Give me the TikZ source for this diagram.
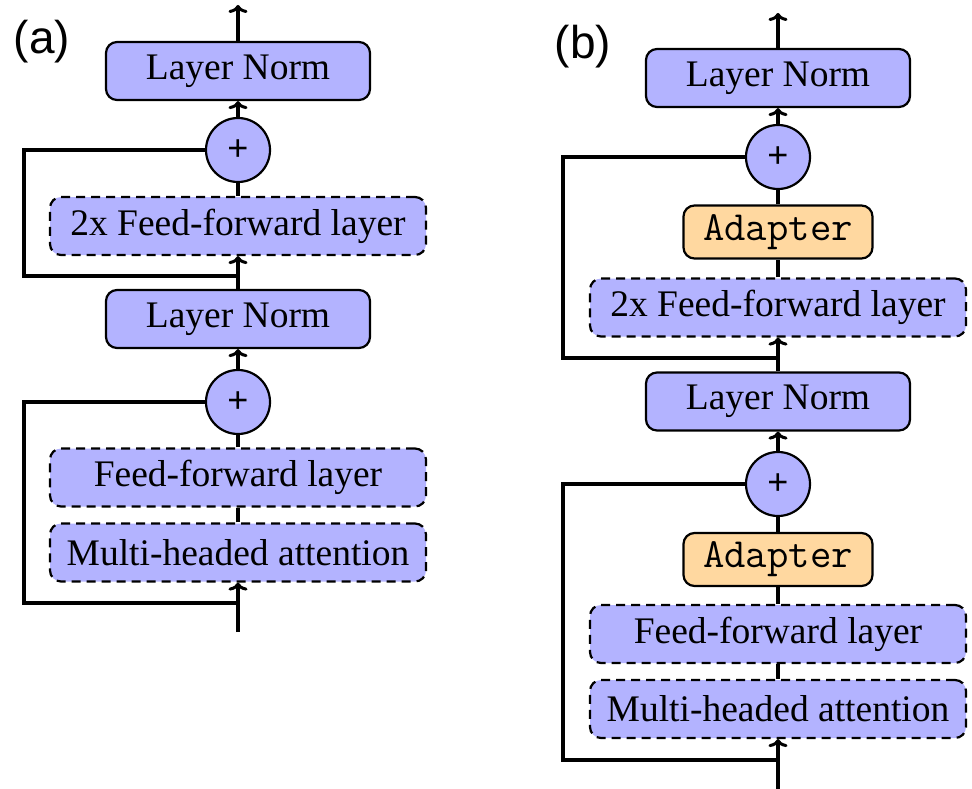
\documentclass[tikz,border=0pt]{standalone}
\usepackage{fontspec}
\setmainfont{Liberation Serif}
\newfontfamily\labfont{Liberation Sans}
\usetikzlibrary{arrows.meta}
\definecolor{boxblue}{RGB}{179,179,255}
\definecolor{adaporange}{RGB}{255,216,160}
\tikzset{
  base/.style={draw=black, line width=2.2pt, rounded corners=11pt, inner sep=0pt,
    font=\fontsize{37.5}{40}\selectfont},
  normbox/.style={base, fill=boxblue, minimum width=264pt, minimum height=58pt},
  dashbox/.style={base, fill=boxblue, minimum width=376pt, minimum height=58pt,
    dash pattern=on 9pt off 6pt},
  adapbox/.style={base, fill=adaporange, minimum width=189pt, minimum height=53pt,
    font=\ttfamily\fontsize{41.5}{44}\selectfont},
  plusnode/.style={circle, draw=black, line width=2.2pt, fill=boxblue, minimum size=64pt,
    inner sep=0pt, font=\labfont\fontsize{36}{38}\selectfont},
  conn/.style={line width=3.4pt},
  arr/.style={conn, -{To[length=8pt,width=19pt,line width=3pt]}},
  panellab/.style={font=\labfont\fontsize{46}{50}\selectfont, inner sep=0pt}
}
\begin{document}
\begin{tikzpicture}[x=1pt,y=-1pt]
\useasboundingbox (0,0) rectangle (972,789);
% ---------- panel (a) ----------
\node[panellab] (labA) at (42,42) {(a)};
\node[normbox] (aln1) at (238,71) {Layer Norm};
\node[plusnode] (ap1) at (238,150) {+};
\node[dashbox] (aff2) at (238,226) {2x Feed-forward layer};
\node[normbox] (aln2) at (238,319) {Layer Norm};
\node[plusnode] (ap2) at (238,402) {+};
\node[dashbox] (aff1) at (238,477.5) {Feed-forward layer};
\node[dashbox] (amha) at (238,552.5) {Multi-headed attention};
\coordinate (aout) at (238,5);
\coordinate (aj1) at (238,276);
\coordinate (aj2) at (238,603);
\coordinate (ain) at (238,632);
\draw[arr] (aln1.north) -- (aout);
\draw[arr] (ap1.north) -- (aln1.south);
\draw[conn] (aff2.north) -- (ap1.south);
\draw[arr] (aln2.north) -- (aff2.south);
\draw[conn] (ap1.west) -- (24,150) |- (aj1);
\draw[arr] (ap2.north) -- (aln2.south);
\draw[conn] (aff1.north) -- (ap2.south);
\draw[conn] (amha.north) -- (aff1.south);
\draw[arr] (ain) -- (amha.south);
\draw[conn] (ap2.west) -- (24,402) |- (aj2);
% ---------- panel (b) ----------
\node[panellab] (labB) at (583,47) {(b)};
\node[normbox] (bln1) at (778,78) {Layer Norm};
\node[plusnode] (bp1) at (778,157) {+};
\node[adapbox] (bad1) at (778,232) {Adapter};
\node[dashbox] (bff2) at (778,307.5) {2x Feed-forward layer};
\node[normbox] (bln2) at (778,401.5) {Layer Norm};
\node[plusnode] (bp2) at (778,484) {+};
\node[adapbox] (bad2) at (778,559.5) {Adapter};
\node[dashbox] (bff1) at (778,634) {Feed-forward layer};
\node[dashbox] (bmha) at (778,709) {Multi-headed attention};
\coordinate (bout) at (778,13);
\coordinate (bj1) at (778,358);
\coordinate (bj2) at (778,760);
\coordinate (bin) at (778,789);
\draw[arr] (bln1.north) -- (bout);
\draw[arr] (bp1.north) -- (bln1.south);
\draw[conn] (bad1.north) -- (bp1.south);
\draw[conn] (bff2.north) -- (bad1.south);
\draw[arr] (bln2.north) -- (bff2.south);
\draw[conn] (bp1.west) -- (563,157) |- (bj1);
\draw[arr] (bp2.north) -- (bln2.south);
\draw[conn] (bad2.north) -- (bp2.south);
\draw[conn] (bff1.north) -- (bad2.south);
\draw[conn] (bmha.north) -- (bff1.south);
\draw[arr] (bin) -- (bmha.south);
\draw[conn] (bp2.west) -- (563,484) |- (bj2);
\end{tikzpicture}
\end{document}
